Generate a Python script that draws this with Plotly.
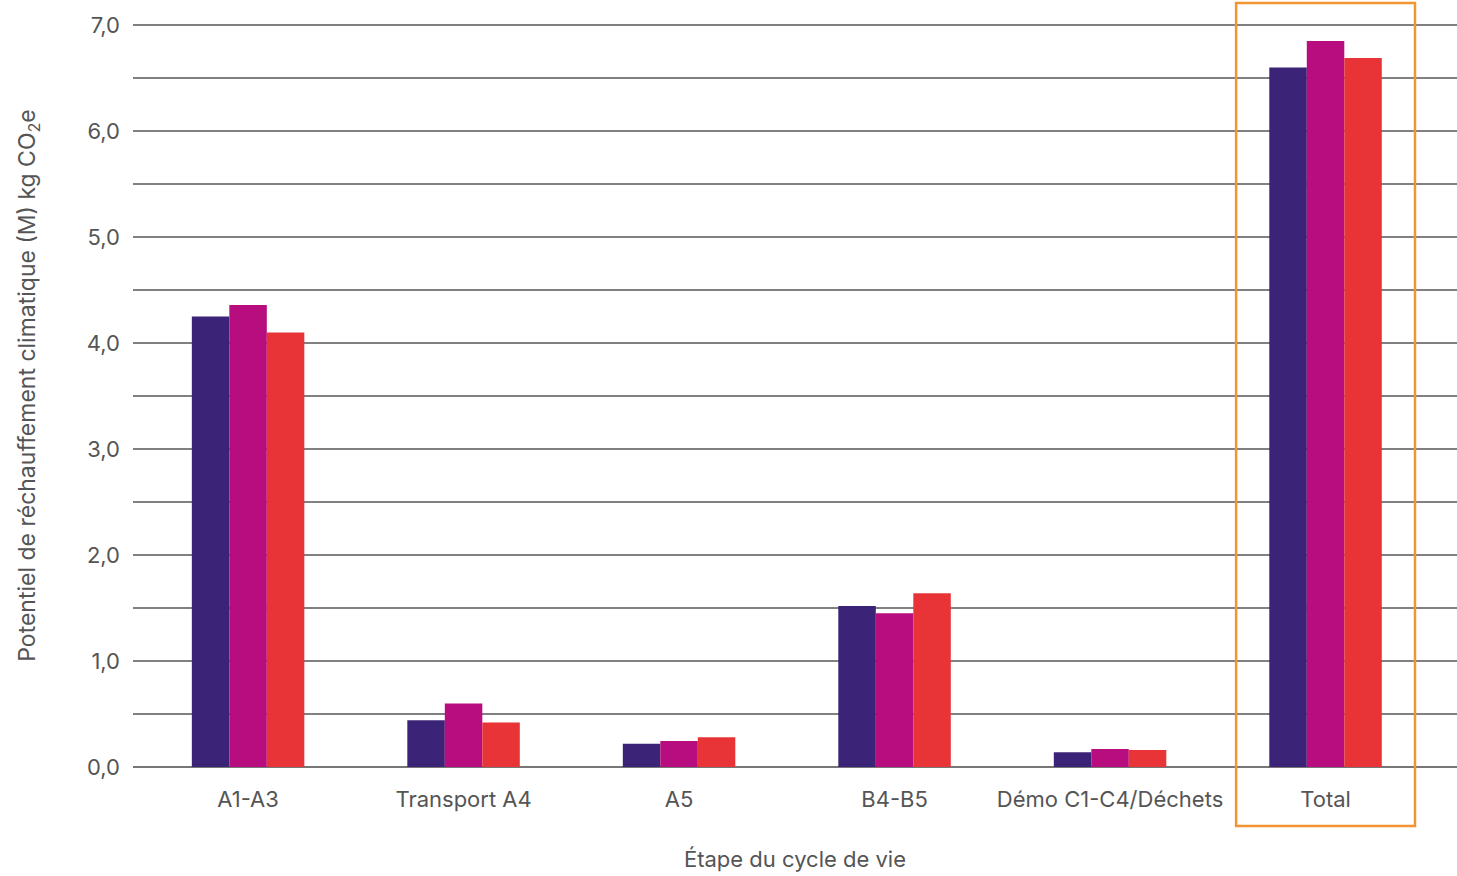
import plotly.graph_objects as go

categories = ["A1-A3", "Transport A4", "A5", "B4-B5", "Démo C1-C4/Déchets", "Total"]
series_1 = [4.25, 0.44, 0.22, 1.52, 0.14, 6.60]
series_2 = [4.36, 0.60, 0.245, 1.45, 0.17, 6.85]
series_3 = [4.10, 0.42, 0.28, 1.64, 0.16, 6.69]
series_names = ["Série 1", "Série 2", "Série 3"]
colors = ["#3B2377", "#B80D7F", "#E83437"]

y_tickvals = [0, 1, 2, 3, 4, 5, 6, 7]
y_ticktext = ["0,0", "1,0", "2,0", "3,0", "4,0", "5,0", "6,0", "7,0"]

FONT = "Inter, Lato, sans-serif"
TXT = "#555555"
x_range = [-0.534, 5.61]
y_range = [0, 7.2]

fig = go.Figure()
for name, vals, col in zip(series_names, [series_1, series_2, series_3], colors):
    fig.add_trace(go.Bar(x=categories, y=vals, name=name, marker=dict(color=col, line=dict(width=0))))

# highlight box around the "Total" group
idx = categories.index("Total")
half = 0.415
x0 = (idx - half - x_range[0]) / (x_range[1] - x_range[0])
x1 = (idx + half - x_range[0]) / (x_range[1] - x_range[0])
fig.add_shape(type="rect", xref="x domain", yref="paper",
              x0=x0, x1=x1, y0=-0.557 / y_range[1], y1=7.21 / y_range[1],
              line=dict(color="#F39433", width=2.5), fillcolor="rgba(0,0,0,0)", layer="above")

fig.update_layout(
    width=1457, height=876,
    margin=dict(l=133, r=0, t=4, b=109),
    paper_bgcolor="white", plot_bgcolor="white",
    barmode="group", bargap=0.478, bargroupgap=0,
    showlegend=False,
    font=dict(family=FONT, color=TXT),
    xaxis=dict(
        range=x_range, showgrid=False, showline=False, ticks="",
        ticklabelstandoff=17,
        tickfont=dict(size=22, color=TXT, family=FONT),
        title=dict(text="Étape du cycle de vie", font=dict(size=22, color=TXT, family=FONT), standoff=40),
    ),
    yaxis=dict(
        range=y_range, tickvals=y_tickvals, ticktext=y_ticktext,
        showgrid=True, gridcolor="#808080", gridwidth=1.5,
        zeroline=True, zerolinecolor="#777777", zerolinewidth=2,
        minor=dict(dtick=0.5, showgrid=True, gridcolor="#808080", gridwidth=1.5, ticks=""),
        ticks="", ticklabelstandoff=12,
        tickfont=dict(size=22, color=TXT, family=FONT),
        title=dict(text="Potentiel de réchauffement climatique (M) kg CO<sub>2</sub>e",
                   font=dict(size=23, color=TXT, family=FONT), standoff=44),
    ),
)

fig.write_html("out.html")
